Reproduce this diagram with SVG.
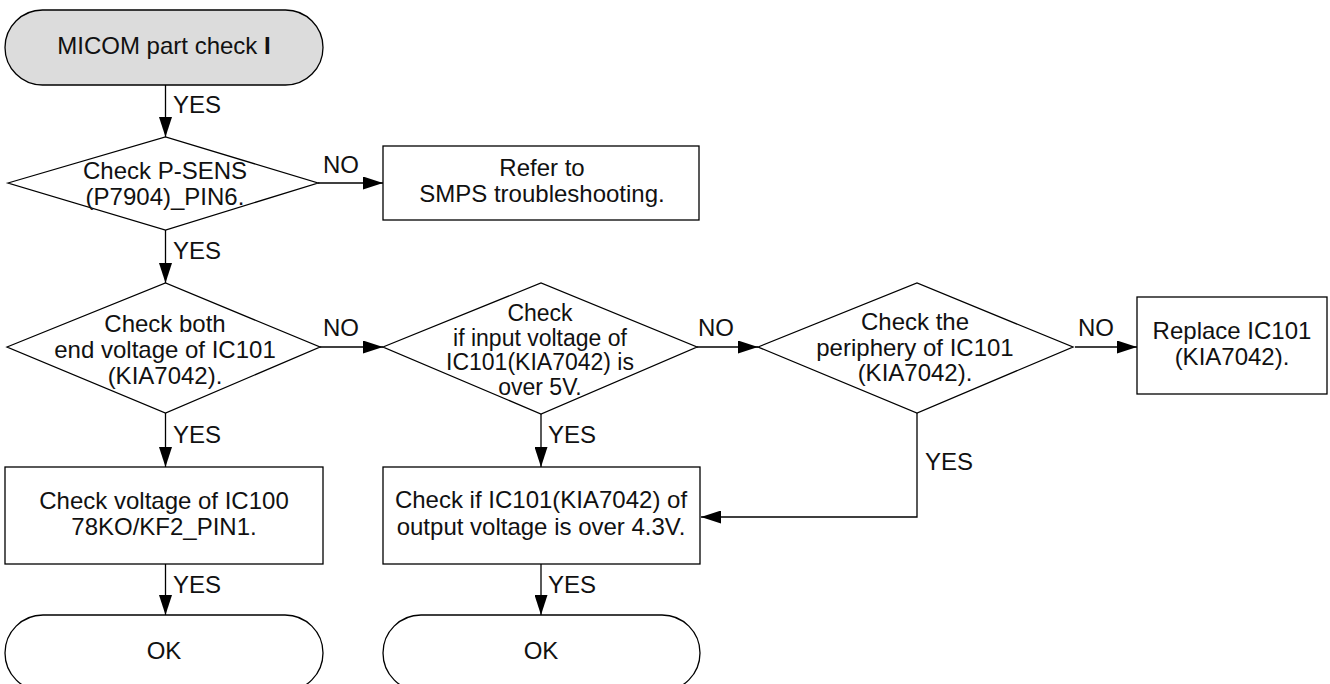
<svg xmlns="http://www.w3.org/2000/svg" width="1330" height="684" viewBox="0 0 1330 684">
<style>
.n{fill:#fff;stroke:#000;stroke-width:1.3}
.g{fill:#dcdcdc;stroke:#000;stroke-width:1.3}
.c{fill:none;stroke:#000;stroke-width:1.3}
text{font-family:"Liberation Sans",Arial,Helvetica,sans-serif;font-size:24px;fill:#111}
.m{text-anchor:middle}
.t{font-size:23px}
</style>
<defs>
<marker id="ah" markerUnits="userSpaceOnUse" markerWidth="20" markerHeight="13" refX="20" refY="6.5" orient="auto">
<path d="M0,0 L20,6.5 L0,13 z" fill="#000"/>
</marker>
</defs>
<rect width="1330" height="684" fill="#fff"/>
<g id="start">
<rect class="g" x="5" y="10" width="318" height="75" rx="37.5" ry="37.5"/>
<text class="m" x="164" y="54">MICOM part check <tspan font-weight="bold">I</tspan></text>
</g>
<g id="d1">
<polygon class="n" points="8,183 165.5,137 318,183 165.5,230"/>
<text class="m" x="165" y="179">Check P-SENS</text>
<text class="m" x="165" y="205">(P7904)_PIN6.</text>
</g>
<g id="b_smps">
<rect class="n" x="383" y="146" width="316" height="74"/>
<text class="m" x="542" y="176">Refer to</text>
<text class="m" x="542" y="202">SMPS troubleshooting.</text>
</g>
<g id="d2">
<polygon class="n" points="7,347 165.5,283 320,347 165.5,413"/>
<text class="m" x="165" y="332">Check both</text>
<text class="m" x="165" y="358">end voltage of IC101</text>
<text class="m" x="165" y="384">(KIA7042).</text>
</g>
<g id="d3">
<polygon class="n" points="383,347 541,283 697,347 541,414"/>
<text class="m t" x="540" y="321">Check</text>
<text class="m t" x="540" y="345.5">if input voltage of</text>
<text class="m t" x="540" y="370">IC101(KIA7042) is</text>
<text class="m t" x="540" y="394.5">over 5V.</text>
</g>
<g id="d4">
<polygon class="n" points="758,347 917,283 1073,347 917,413"/>
<text class="m" x="915" y="330">Check the</text>
<text class="m" x="915" y="356">periphery of IC101</text>
<text class="m" x="915" y="381">(KIA7042).</text>
</g>
<g id="b_replace">
<rect class="n" x="1137" y="297" width="190" height="97"/>
<text class="m" x="1232" y="339">Replace IC101</text>
<text class="m" x="1232" y="365">(KIA7042).</text>
</g>
<g id="b_ic100">
<rect class="n" x="5" y="467" width="318" height="97"/>
<text class="m" x="164" y="509">Check voltage of IC100</text>
<text class="m" x="164" y="535">78KO/KF2_PIN1.</text>
</g>
<g id="b_ic101">
<rect class="n" x="383" y="467" width="317" height="97"/>
<text class="m" x="541" y="508">Check if IC101(KIA7042) of</text>
<text class="m" x="541" y="535">output voltage is over 4.3V.</text>
</g>
<g id="ok1">
<rect class="n" x="5" y="615" width="318" height="76" rx="38" ry="38"/>
<text class="m" x="164" y="659">OK</text>
</g>
<g id="ok2">
<rect class="n" x="383" y="615" width="317" height="76" rx="38" ry="38"/>
<text class="m" x="541" y="659">OK</text>
</g>
<g id="connectors">
<line class="c" x1="165.5" y1="85" x2="165.5" y2="137" marker-end="url(#ah)"/>
<text x="173" y="113">YES</text>
<line class="c" x1="318" y1="183" x2="383" y2="183" marker-end="url(#ah)"/>
<text x="323" y="173">NO</text>
<line class="c" x1="165.5" y1="230" x2="165.5" y2="283" marker-end="url(#ah)"/>
<text x="173" y="259">YES</text>
<line class="c" x1="320" y1="347" x2="383" y2="347" marker-end="url(#ah)"/>
<text x="323" y="336">NO</text>
<line class="c" x1="697" y1="347" x2="758" y2="347" marker-end="url(#ah)"/>
<text x="698" y="336">NO</text>
<line class="c" x1="1075" y1="347" x2="1137" y2="347" marker-end="url(#ah)"/>
<text x="1078" y="336">NO</text>
<line class="c" x1="165.5" y1="413" x2="165.5" y2="467" marker-end="url(#ah)"/>
<text x="173" y="443">YES</text>
<line class="c" x1="541" y1="414" x2="541" y2="467" marker-end="url(#ah)"/>
<text x="548" y="443">YES</text>
<polyline class="c" points="917,413 917,517 701,517" marker-end="url(#ah)"/>
<text x="925" y="470">YES</text>
<line class="c" x1="165.5" y1="564" x2="165.5" y2="615" marker-end="url(#ah)"/>
<text x="173" y="593">YES</text>
<line class="c" x1="541" y1="564" x2="541" y2="615" marker-end="url(#ah)"/>
<text x="548" y="593">YES</text>
</g>
</svg>
